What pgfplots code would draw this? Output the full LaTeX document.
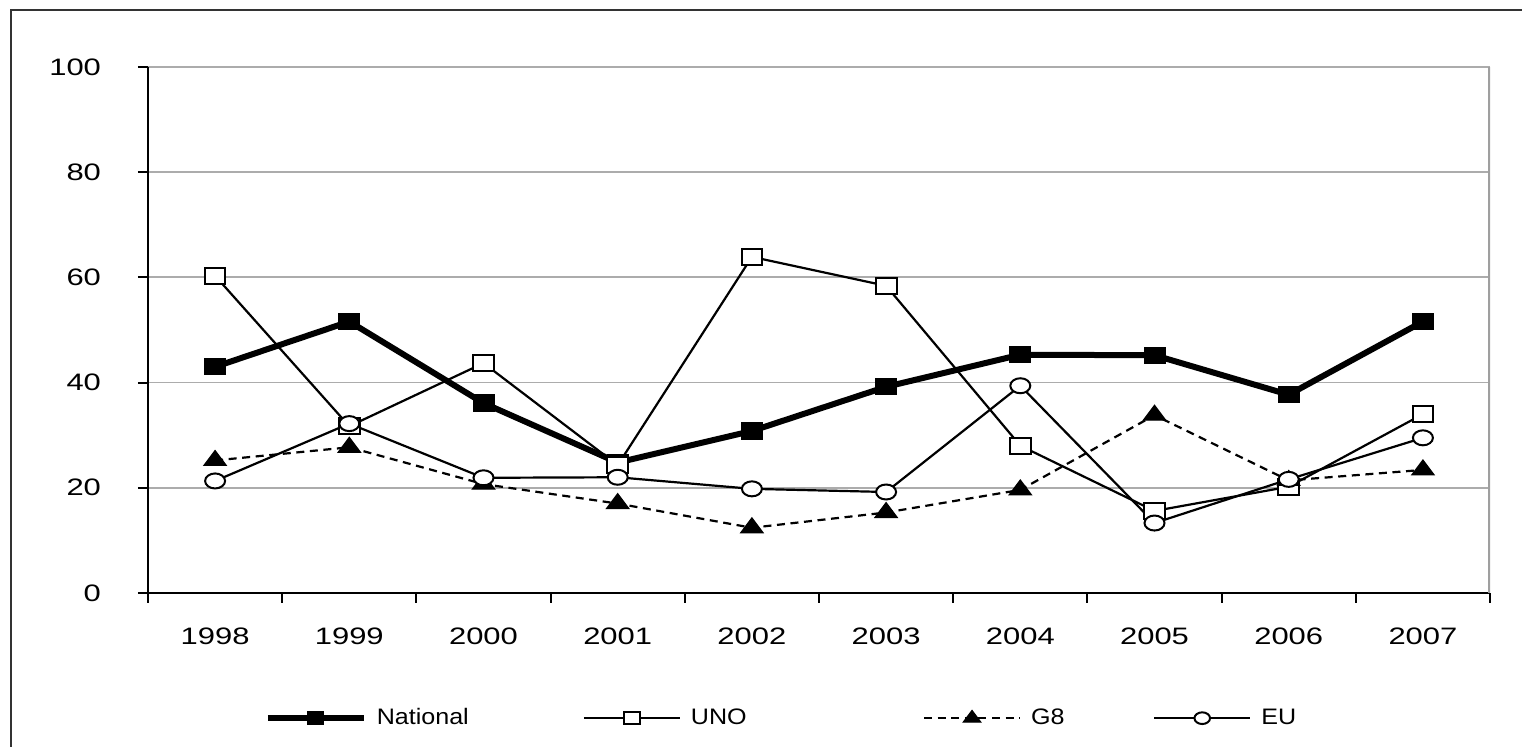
\documentclass[border=0pt]{standalone}
\usepackage{fontspec}
\setmainfont{Liberation Sans}[FakeStretch=1.12]
\newfontfamily\tickfont{Liberation Sans}[FakeStretch=1.3]
\usepackage{pgfplots}
\usepackage{pgfplotstable}
\pgfplotsset{compat=1.18}

% values, one row per year (x = 0..9 for 1998..2007)
\pgfplotstableread{
x National UNO G8 EU
0 43.0 60.3 25.2 21.3
1 51.6 31.7 27.7 32.2
2 36.1 43.7 20.7 21.9
3 24.8 24.3 17.0 22.0
4 30.8 63.9 12.4 19.8
5 39.2 58.4 15.3 19.2
6 45.3 28.0 19.6 39.4
7 45.2 15.6 33.8 13.3
8 37.7 20.2 21.4 21.6
9 51.6 34.0 23.4 29.5
}\datatable

\begin{document}
\begin{tikzpicture}
\begin{axis}[
    name=ax, at={(0,0)}, anchor=south west,
    scale only axis, width=671pt, height=263pt,
    xmin=-0.5, xmax=9.5, ymin=0, ymax=100,
    xtick={-0.5,0.5,...,9.5},
    xticklabels={1998,1999,2000,2001,2002,2003,2004,2005,2006,2007},
    x tick label as interval,
    ytick={0,20,...,100},
    axis x line*=bottom, axis y line*=left,
    axis line style={black, line width=1pt, -},
    tick align=outside,
    major tick length=5pt,
    tick style={black, line width=1pt},
    ymajorgrids,
    grid style={gray!65, line width=0.9pt},
    ticklabel style={font=\tickfont\fontsize{11.9}{14}\selectfont},
    /pgf/number format/assume math mode=true,
    xticklabel style={yshift=-9pt},
    yticklabel style={xshift=-15pt},
    legend columns=4,
    legend style={at={(rel axis cs:0.0867,-0.2380)}, anchor=west,
        draw=none, inner sep=0pt, column sep=3pt,
        font=\fontsize{11.2}{13}\selectfont},
    legend image code/.code={\draw[mark repeat=2, mark phase=2,
        every mark/.append style={scale=0.78}]
        plot coordinates {(0pt,0pt) (24pt,0pt) (48pt,0pt)};},
]
\draw[gray!75, line width=1.6pt] (rel axis cs:1,0) -- (rel axis cs:1,1);

\addplot[black, line width=3pt, mark=square*,
    mark options={solid, line width=0.6pt, fill=black, yscale=0.77}, mark size=5.2pt]
    table[x=x, y=National] {\datatable};
\addlegendentry{\makebox[98pt][l]{National}}

\addplot[black, line width=1.1pt, mark=square*,
    mark options={solid, line width=1pt, fill=white, yscale=0.77}, mark size=5.2pt]
    table[x=x, y=UNO] {\datatable};
\addlegendentry{\makebox[111pt][l]{UNO}}

\addplot[black, line width=1.1pt, dash pattern=on 4pt off 2.8pt, mark=triangle*,
    mark options={solid, line width=0.6pt, fill=black, yscale=0.77}, mark size=6.4pt]
    table[x=x, y=G8] {\datatable};
\addlegendentry{\makebox[56pt][l]{G8}}

\addplot[black, line width=1.1pt, mark=*,
    mark options={solid, line width=1pt, fill=white, yscale=0.75}, mark size=5pt]
    table[x=x, y=EU] {\datatable};
\addlegendentry{EU}
\end{axis}
\pgfresetboundingbox
\useasboundingbox (-74pt,-77pt) rectangle (687pt,296.5pt);
\draw[overlay, line width=1pt, black!80] (-68.5pt,-100pt) -- (-68.5pt,291.5pt) -- (720pt,291.5pt);
\end{tikzpicture}
\end{document}
